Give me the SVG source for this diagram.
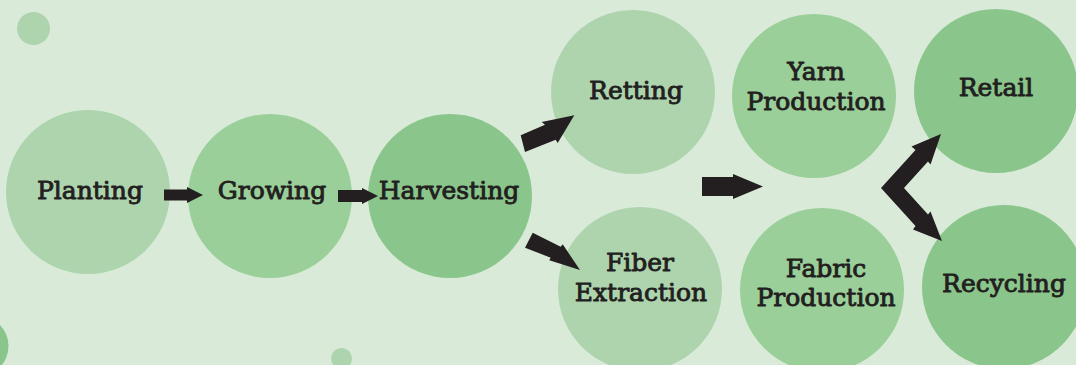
<svg xmlns="http://www.w3.org/2000/svg" width="1076" height="365" viewBox="0 0 1076 365">
  <style>
    .bg { fill: #d9ebd8; }
    .c-light { fill: #aed4ae; }
    .c-mid { fill: #9acf9a; }
    .c-dark { fill: #8ac58b; }
    .label { font-family: "DejaVu Serif", "Liberation Serif", serif; font-size: 25px; fill: #231f20; stroke: #231f20; stroke-width: 0.9px; stroke-linejoin: round; text-anchor: middle; }
    .arrow { fill: #231f20; }
  </style>

  <!-- background and decorative dots -->
  <rect class="bg" x="0" y="0" width="1076" height="365"/>
  <g id="decor">
    <circle class="c-light" cx="33.5" cy="28.5" r="16.5"/>
    <circle class="c-light" cx="341.5" cy="358.5" r="10.5"/>
    <circle class="c-dark" cx="-22" cy="346" r="30.5"/>
  </g>

  <!-- process stages -->
  <g id="planting">
    <circle class="c-light" cx="88" cy="192" r="82"/>
    <text class="label" x="90" y="199">Planting</text>
  </g>
  <g id="growing">
    <circle class="c-mid" cx="270" cy="196" r="82"/>
    <text class="label" x="272" y="199">Growing</text>
  </g>
  <g id="harvesting">
    <circle class="c-dark" cx="450" cy="196" r="82"/>
    <text class="label" x="449" y="199">Harvesting</text>
  </g>
  <g id="retting">
    <circle class="c-light" cx="633" cy="92" r="82"/>
    <text class="label" x="636" y="99">Retting</text>
  </g>
  <g id="fiber-extraction">
    <circle class="c-light" cx="640" cy="289" r="82"/>
    <text class="label" x="640" y="271">Fiber</text>
    <text class="label" x="641" y="300.5">Extraction</text>
  </g>
  <g id="yarn-production">
    <circle class="c-mid" cx="814" cy="96" r="82"/>
    <text class="label" x="816" y="80">Yarn</text>
    <text class="label" x="816" y="110">Production</text>
  </g>
  <g id="fabric-production">
    <circle class="c-mid" cx="822" cy="290" r="82"/>
    <text class="label" x="826" y="276.5">Fabric</text>
    <text class="label" x="826" y="305.5">Production</text>
  </g>
  <g id="retail">
    <circle class="c-dark" cx="996" cy="91" r="82"/>
    <text class="label" x="996" y="96">Retail</text>
  </g>
  <g id="recycling">
    <circle class="c-dark" cx="1004" cy="287" r="82"/>
    <text class="label" x="1004" y="292">Recycling</text>
  </g>

  <!-- block arrows between stages -->
  <g id="connectors">
    <polygon class="arrow" points="164,189.5 187,189.5 187,187 203,195 187,203 187,200.5 164,200.5"/>
    <polygon class="arrow" points="338,190 362,190 362,188 378,196 362,204 362,202 338,202"/>
    <polygon class="arrow" points="520.7,135.3 545,124.7 541.7,122 574.3,115.3 557.7,143 555.7,139.7 525,152"/>
    <polygon class="arrow" points="532.7,232.7 560.7,246.7 562.7,244.3 580,270 549.3,260.3 550.7,257.7 525,247.7"/>
    <polygon class="arrow" points="702,177 733,177 733,174 763,186.5 733,199 733,196 702,196"/>
    <polygon class="arrow" points="881,188 915.5,149.9 911.5,146.5 941,134 930.5,164.5 928,161.4 904,188 928,214.6 930.5,211.5 942,241 913,229.5 915.5,226.1"/>
  </g>
</svg>
